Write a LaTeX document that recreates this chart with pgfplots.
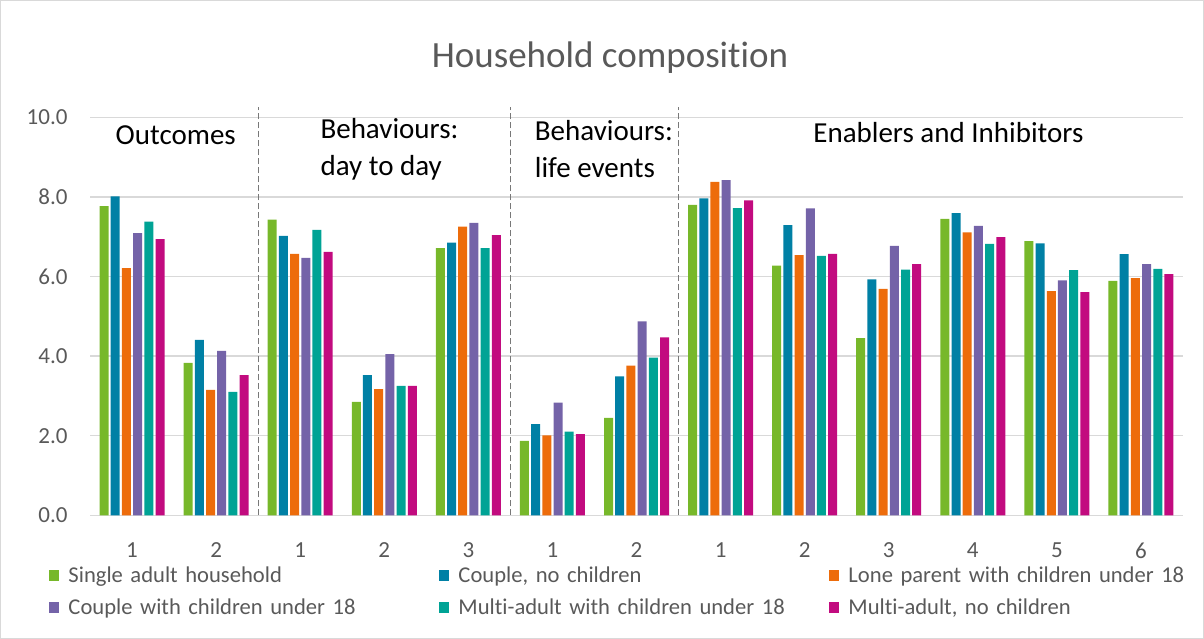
\documentclass[border=0pt]{standalone}
\usepackage{pgfplots}
\usepackage{pgfplotstable}
\pgfplotsset{compat=1.18}
\usepackage{fontspec}
\setmainfont{Carlito}[Ligatures=NoCommon]

\definecolor{cSingle}{RGB}{119,184,42}
\definecolor{cCouple}{RGB}{0,128,165}
\definecolor{cLone}{RGB}{237,108,11}
\definecolor{cCoupleKids}{RGB}{116,99,168}
\definecolor{cMultiKids}{RGB}{0,163,149}
\definecolor{cMulti}{RGB}{194,11,127}
\definecolor{gridgray}{RGB}{217,217,217}
\definecolor{textgray}{RGB}{89,89,89}
\definecolor{divgray}{RGB}{120,120,120}

% mean scores by household type, one row per item
\pgfplotstableread{
x  single couple lone coupkids multkids multi
0  7.77   8.01   6.21 7.09     7.38     6.94
1  3.83   4.41   3.15 4.13     3.10     3.52
2  7.43   7.02   6.57 6.47     7.17     6.62
3  2.85   3.52   3.17 4.05     3.25     3.25
4  6.71   6.85   7.25 7.35     6.71     7.04
5  1.87   2.29   2.01 2.83     2.10     2.04
6  2.45   3.49   3.76 4.87     3.96     4.47
7  7.80   7.96   8.38 8.42     7.72     7.91
8  6.27   7.29   6.54 7.71     6.52     6.57
9  4.45   5.93   5.69 6.77     6.17     6.31
10 7.45   7.59   7.11 7.27     6.82     6.99
11 6.89   6.83   5.63 5.90     6.16     5.61
12 5.89   6.56   5.96 6.31     6.19     6.06
}\scores

\begin{document}
\begin{tikzpicture}
\path[use as bounding box] (0,0) rectangle (1204pt,639pt);
\draw[gridgray, line width=1pt] (0.5pt,0.5pt) rectangle (1203.5pt,638.5pt);
\node[text=textgray, font=\fontsize{37}{44}\selectfont] at (610pt,581pt) {Household composition};
\begin{axis}[
  at={(90pt,123.7pt)}, anchor=south west,
  scale only axis, width=1093pt, height=398pt,
  xmin=-0.5, xmax=12.5, ymin=0, ymax=10,
  xtick={0,...,12},
  xticklabels={1,2,1,2,3,1,2,1,2,3,4,5,6},
  ytick={0,2,...,10},
  ymajorgrids, grid style={gridgray, line width=1.3pt},
  axis line style={draw=none},
  major tick length=0pt,
  clip=false,
  ybar=2.2pt, bar width=9pt,
  /pgf/number format/assume math mode=true,
  yticklabel style={/pgf/number format/fixed, /pgf/number format/fixed zerofill,
    /pgf/number format/precision=1, xshift=-19pt},
  ticklabel style={font=\fontsize{23}{27}\selectfont, text=textgray},
  xticklabel style={yshift=-24pt},
  legend columns=3,
  legend image code/.code={\fill[#1] (0pt,-5.5pt) rectangle (10pt,5.5pt);},
  legend style={
    at={(axis description cs:-0.04,-0.12)}, anchor=north west,
    draw=none, fill=none,
    font=\fontsize{22.6}{27}\selectfont, text=textgray,
    nodes={text width=360pt, inner xsep=0pt, align=left},
    /tikz/every odd column/.append style={column sep=9pt},
    /tikz/every even column/.append style={column sep=11pt},
    row sep=10pt,
  },
]
\addplot[fill=cSingle, draw=none] table[x=x, y=single] {\scores};
\addplot[fill=cCouple, draw=none] table[x=x, y=couple] {\scores};
\addplot[fill=cLone, draw=none] table[x=x, y=lone] {\scores};
\addplot[fill=cCoupleKids, draw=none] table[x=x, y=coupkids] {\scores};
\addplot[fill=cMultiKids, draw=none] table[x=x, y=multkids] {\scores};
\addplot[fill=cMulti, draw=none] table[x=x, y=multi] {\scores};
\legend{Single adult household, {Couple, no children}, Lone parent with children under 18,
  Couple with children under 18, Multi-adult with children under 18, {Multi-adult, no children}}

% section dividers
\foreach \s in {1.5,4.5,6.5} {
  \edef\tmp{\noexpand\draw[divgray, dash pattern=on 6pt off 3pt, line width=0.9pt] (axis cs:\s,0) -- (axis cs:\s,10.25);}
  \tmp
}
% section headings
\begin{scope}[font=\fontsize{29}{37}\selectfont]
\node at (axis cs:0.52,9.56) {Outcomes};
\node[anchor=west, align=left] at (axis cs:2.20,9.20) {Behaviours:\\day to day};
\node[anchor=west, align=left] at (axis cs:4.75,9.20) {Behaviours:\\life events};
\node at (axis cs:9.71,9.61) {Enablers and Inhibitors};
\end{scope}
\end{axis}
\end{tikzpicture}
\end{document}
